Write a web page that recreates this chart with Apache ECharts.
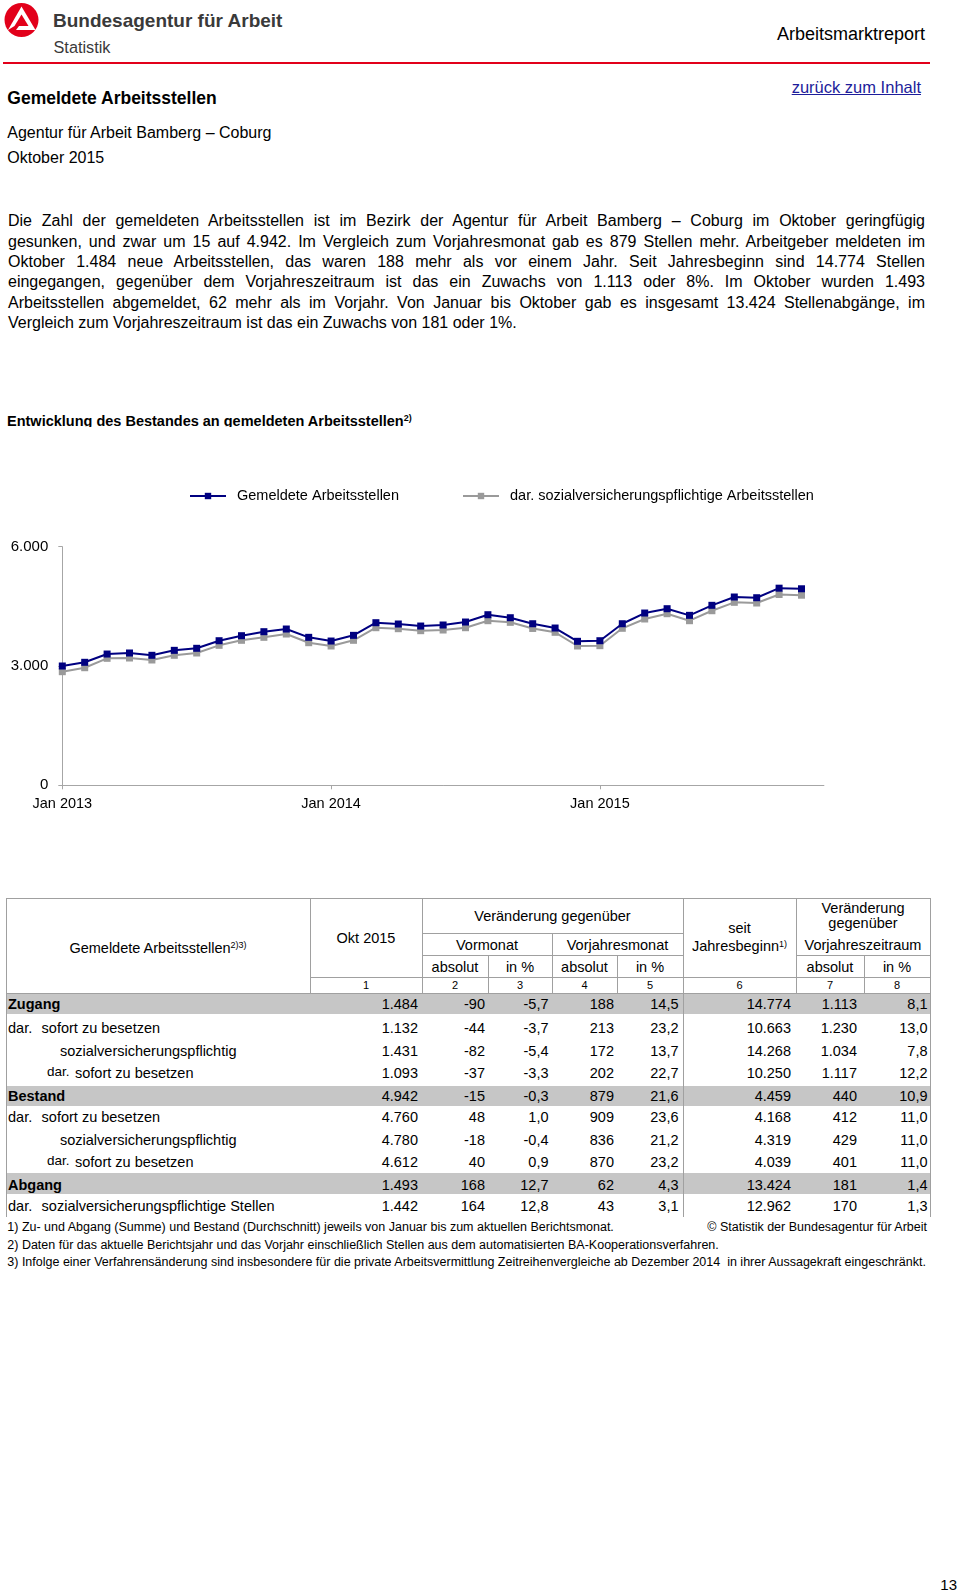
<!DOCTYPE html>
<html><head><meta charset="utf-8">
<script src="https://cdn.jsdelivr.net/npm/echarts@6/dist/echarts.min.js"></script>
<style>
html,body{margin:0;padding:0}
body{width:960px;height:1593px;position:relative;background:#fff;font-family:"Liberation Sans",Arial,Helvetica,sans-serif;color:#000;overflow:hidden}
.t{position:absolute;white-space:nowrap}
.ln{position:absolute;background:#a0a0a0}
.band{position:absolute;background:#c6c6c6}
.sup{font-size:0.62em;position:relative;top:-0.55em}
.pl{position:absolute;left:8px;width:917px;font-size:16px;line-height:20px;text-align:justify;text-align-last:justify;white-space:nowrap}
#chart{position:absolute;left:0;top:440px;width:960px;height:380px}
#redline{position:absolute;left:3px;top:61.5px;width:927px;height:2px;background:#e2001a}
</style></head>
<body>
<svg style="position:absolute;left:0;top:0" width="44" height="42" viewBox="0 0 44 42">
  <circle cx="21.5" cy="20" r="17" fill="#e2001a"/>
  <path d="M21.5 6.5 L35.5 30 L8 30 Z" fill="#fff"/>
  <path d="M21.5 14.5 L28.5 26 L14.5 26 Z" fill="#e2001a"/>
  <path d="M8 30 L16 30 L19 26 L14.5 26 Z" fill="#e2001a"/>
</svg>
<div id="redline"></div>
<div id="chart"></div>
<script>
// ---------------- chart data ----------------
const months = ['Jan 2013','Feb 2013','Mär 2013','Apr 2013','Mai 2013','Jun 2013','Jul 2013','Aug 2013','Sep 2013','Okt 2013','Nov 2013','Dez 2013',
                'Jan 2014','Feb 2014','Mär 2014','Apr 2014','Mai 2014','Jun 2014','Jul 2014','Aug 2014','Sep 2014','Okt 2014','Nov 2014','Dez 2014',
                'Jan 2015','Feb 2015','Mär 2015','Apr 2015','Mai 2015','Jun 2015','Jul 2015','Aug 2015','Sep 2015','Okt 2015','Nov 2015'];
const gemeldeteStellen = [3000,3093,3301,3327,3269,3394,3445,3636,3762,3863,3930,3721,
                          3628,3771,4089,4056,4005,4031,4106,4290,4214,4063,3955,3621,
                          3636,4063,4332,4441,4274,4526,4735,4717,4957,4942];
const svpflStellen     = [2857,2957,3193,3201,3151,3269,3327,3520,3646,3721,3804,3586,
                          3503,3646,3963,3938,3888,3905,3963,4139,4098,3944,3847,3503,
                          3511,3948,4182,4315,4139,4390,4601,4584,4798,4780];
const seriesNames = ['Gemeldete Arbeitsstellen','dar. sozialversicherungspflichtige Arbeitsstellen'];
const yTicks = [0,3000,6000];

// ---------------- table data ----------------
const rowPrefix = ['', 'dar.', '', 'dar.', '', 'dar.', '', 'dar.', '', 'dar.'];
const rowText   = ['Zugang','sofort zu besetzen','sozialversicherungspflichtig','sofort zu besetzen',
                   'Bestand','sofort zu besetzen','sozialversicherungspflichtig','sofort zu besetzen',
                   'Abgang','sozialversicherungspflichtige Stellen'];
const rowLevel  = [0,1,2,3,0,1,2,3,0,1];
const colOkt2015      = ['1.484','1.132','1.431','1.093','4.942','4.760','4.780','4.612','1.493','1.442'];
const colVormonatAbs  = ['-90','-44','-82','-37','-15','48','-18','40','168','164'];
const colVormonatPct  = ['-5,7','-3,7','-5,4','-3,3','-0,3','1,0','-0,4','0,9','12,7','12,8'];
const colVorjahrAbs   = ['188','213','172','202','879','909','836','870','62','43'];
const colVorjahrPct   = ['14,5','23,2','13,7','22,7','21,6','23,6','21,2','23,2','4,3','3,1'];
const colSeitJahresb  = ['14.774','10.663','14.268','10.250','4.459','4.168','4.319','4.039','13.424','12.962'];
const colVjzAbs       = ['1.113','1.230','1.034','1.117','440','412','429','401','181','170'];
const colVjzPct       = ['8,1','13,0','7,8','12,2','10,9','11,0','11,0','11,0','1,4','1,3'];

const paragraphLines = [
 'Die Zahl der gemeldeten Arbeitsstellen ist im Bezirk der Agentur für Arbeit Bamberg – Coburg im Oktober geringfügig',
 'gesunken, und zwar um 15 auf 4.942. Im Vergleich zum Vorjahresmonat gab es 879 Stellen mehr. Arbeitgeber meldeten im',
 'Oktober 1.484 neue Arbeitsstellen, das waren 188 mehr als vor einem Jahr. Seit Jahresbeginn sind 14.774 Stellen',
 'eingegangen, gegenüber dem Vorjahreszeitraum ist das ein Zuwachs von 1.113 oder 8%. Im Oktober wurden 1.493',
 'Arbeitsstellen abgemeldet, 62 mehr als im Vorjahr. Von Januar bis Oktober gab es insgesamt 13.424 Stellenabgänge, im',
 'Vergleich zum Vorjahreszeitraum ist das ein Zuwachs von 181 oder 1%.'
];

// ---------------- helpers ----------------
function T(txt, x, cy, fs, align, extra){
  const d=document.createElement('div');
  d.className='t';
  d.style.fontSize=fs+'px'; d.style.lineHeight=fs+'px';
  d.style.top=(cy-fs/2)+'px';
  if(align==='right'){ d.style.right=(960-x)+'px'; d.style.textAlign='right'; }
  else if(align==='center'){ d.style.left=(x-300)+'px'; d.style.width='600px'; d.style.textAlign='center'; }
  else d.style.left=x+'px';
  d.innerHTML=txt; if(extra) Object.assign(d.style, extra);
  document.body.appendChild(d); return d;
}
function H(x1,x2,y){const d=document.createElement('div');d.className='ln';Object.assign(d.style,{left:x1+'px',top:(y-0.5)+'px',width:(x2-x1+1)+'px',height:'1px'});document.body.appendChild(d);}
function V(x,y1,y2){const d=document.createElement('div');d.className='ln';Object.assign(d.style,{left:(x-0.5)+'px',top:y1+'px',width:'1px',height:(y2-y1)+'px'});document.body.appendChild(d);}
function B(x1,x2,y1,y2){const d=document.createElement('div');d.className='band';Object.assign(d.style,{left:x1+'px',top:y1+'px',width:(x2-x1)+'px',height:(y2-y1)+'px'});document.body.appendChild(d);}

// ---------------- header ----------------
T('Bundesagentur für Arbeit',53,20.5,19,'left',{fontWeight:'bold',color:'#3a3a3a'});
T('Statistik',53.5,47.2,16.3,'left',{color:'#3a3a3a'});
T('Arbeitsmarktreport',925,33.7,18,'right');
T('zurück zum Inhalt',921,86.8,16.5,'right',{color:'#1d1d9b',textDecoration:'underline'});
T('Gemeldete Arbeitsstellen',7.3,98.3,17.5,'left',{fontWeight:'bold'});
T('Agentur für Arbeit Bamberg – Coburg',7.3,132.5,16,'left');
T('Oktober 2015',7.3,158,16,'left');

paragraphLines.forEach((s,i)=>{
  const d=document.createElement('div'); d.className='pl';
  d.style.top=(221.3+i*20.35-10)+'px';
  if(i===paragraphLines.length-1){d.style.textAlignLast='left';}
  d.textContent=s; document.body.appendChild(d);
});

// section title (bottom clipped as in original)
(function(){
  const w=document.createElement('div');
  Object.assign(w.style,{position:'absolute',left:'7px',top:'410px',height:'16.5px',width:'500px',overflow:'hidden'});
  w.innerHTML='<div style="position:absolute;top:4px;left:0;font-size:14.5px;line-height:14.5px;font-weight:bold;white-space:nowrap">Entwicklung des Bestandes an gemeldeten Arbeitsstellen<span class="sup">2)</span></div>';
  document.body.appendChild(w);
})();

// ---------------- table ----------------
const L=6, R=930;
const yTop=898.5, yBodyTop=993.5, yBottom=1217;
B(L,R,993.5,1013.5); B(L,R,1085.5,1105.5); B(L,R,1172.5,1194);
H(L,R,yTop); H(422,683,933.5); H(422,683,955); H(796,R,955); H(310,R,977.3); H(L,R,yBodyTop);
V(L,yTop,yBottom); V(R,yTop,yBottom); V(683,yTop,yBottom);
V(310,yTop,yBodyTop); V(422,yTop,yBodyTop); V(796,yTop,yBodyTop);
V(488,955,yBodyTop); V(617,955,yBodyTop); V(864,955,yBodyTop); V(552,933.5,yBodyTop);

const hf=14.5;
T('Gemeldete Arbeitsstellen<span class="sup">2)3)</span>',158,948,hf,'center');
T('Okt 2015',366,938.5,hf,'center');
T('Veränderung gegenüber',552.5,916.7,hf,'center');
T('Vormonat',487,945,hf,'center');
T('Vorjahresmonat',617.5,945,hf,'center');
T('seit',739.5,928.3,hf,'center');
T('Jahresbeginn<span class="sup">1)</span>',739.5,946.7,hf,'center');
T('Veränderung',863,908.3,hf,'center');
T('gegenüber',863,923.3,hf,'center');
T('Vorjahreszeitraum',863,945,hf,'center');
[[455,'absolut'],[520,'in %'],[584.5,'absolut'],[650,'in %'],[830,'absolut'],[897,'in %']].forEach(a=>T(a[1],a[0],967.3,hf,'center'));
[[366,'1'],[455,'2'],[520,'3'],[584.5,'4'],[650,'5'],[739.5,'6'],[830,'7'],[897,'8']].forEach(a=>T(a[1],a[0],985.5,11,'center'));

const rowY=[1004,1028,1051,1073,1096,1117.5,1140,1162.3,1185,1206.7];
const numCols=[colOkt2015,colVormonatAbs,colVormonatPct,colVorjahrAbs,colVorjahrPct,colSeitJahresb,colVjzAbs,colVjzPct];
const numRight=[418,485,548.5,614,678.5,791,857,927.5];
const bf=14.5;
rowText.forEach((txt,i)=>{
  const y=rowY[i], lv=rowLevel[i];
  if(lv===0){ T(txt,8,y,bf,'left',{fontWeight:'bold'}); }
  else if(lv===1){ T(rowPrefix[i],8,y,bf,'left'); T(txt,41.6,y,bf,'left'); }
  else if(lv===2){ T(txt,60,y,bf,'left'); }
  else { T(rowPrefix[i],47,y-1.5,13.5,'left'); T(txt,75,y,bf,'left'); }
  numCols.forEach((c,j)=>T(c[i],numRight[j],y,bf,'right'));
});

// footnotes
T('1) Zu- und Abgang (Summe) und Bestand (Durchschnitt) jeweils von Januar bis zum aktuellen Berichtsmonat.',7.3,1227.3,12.5,'left');
T('© Statistik der Bundesagentur für Arbeit',927,1227.3,12.5,'right');
T('2) Daten für das aktuelle Berichtsjahr und das Vorjahr einschließlich Stellen aus dem automatisierten BA-Kooperationsverfahren.',7.3,1245,12.5,'left');
T('3) Infolge einer Verfahrensänderung sind insbesondere für die private Arbeitsvermittlung Zeitreihenvergleiche ab Dezember 2014&nbsp; in ihrer Aussagekraft eingeschränkt.',7.3,1262.5,12.5,'left');
T('13',957,1584,15,'right');

// ---------------- chart ----------------
const chart=echarts.init(document.getElementById('chart'),null,{renderer:'canvas'});
const FF='"Liberation Sans", Arial, sans-serif';
const fmt=v=>String(v).replace(/\B(?=(\d{3})+(?!\d))/g,'.');
const janOnly=(i)=>i%12===0;
const legendText={fontFamily:FF,fontSize:14.5,color:'#000',padding:[0,0,0,6],lineHeight:16};
chart.setOption({
  animation:false,
  textStyle:{fontFamily:FF},
  legend:[
    {data:[seriesNames[0]],left:189,top:48,padding:0,itemWidth:36,itemHeight:8,itemGap:0,textStyle:legendText},
    {data:[seriesNames[1]],left:462,top:48,padding:0,itemWidth:36,itemHeight:8,itemGap:0,textStyle:legendText}
  ],
  grid:{left:62.3,top:106.7,width:761.6,height:238.6,containLabel:false},
  xAxis:{type:'category',data:months,boundaryGap:false,
    axisLine:{lineStyle:{color:'#a6a6a6',width:1}},
    axisTick:{show:true,interval:janOnly,length:4,lineStyle:{color:'#a6a6a6'}},
    axisLabel:{interval:janOnly,fontFamily:FF,fontSize:14.5,color:'#000',margin:11},
    splitLine:{show:false}},
  yAxis:{type:'value',min:yTicks[0],max:yTicks[2],interval:yTicks[1]-yTicks[0],
    axisLine:{show:true,lineStyle:{color:'#a6a6a6',width:1}},
    axisTick:{show:true,length:4,lineStyle:{color:'#a6a6a6'}},
    axisLabel:{fontFamily:FF,fontSize:15,color:'#000',margin:14,formatter:fmt},
    splitLine:{show:false}},
  series:[
    {name:seriesNames[0],type:'line',data:gemeldeteStellen,symbol:'rect',symbolSize:7,showSymbol:true,
     lineStyle:{color:'#000080',width:2},itemStyle:{color:'#000080'},z:3},
    {name:seriesNames[1],type:'line',data:svpflStellen,symbol:'rect',symbolSize:7,showSymbol:true,
     lineStyle:{color:'#9a9a9a',width:2},itemStyle:{color:'#9a9a9a'},z:2}
  ]
});
</script>
</body></html>
